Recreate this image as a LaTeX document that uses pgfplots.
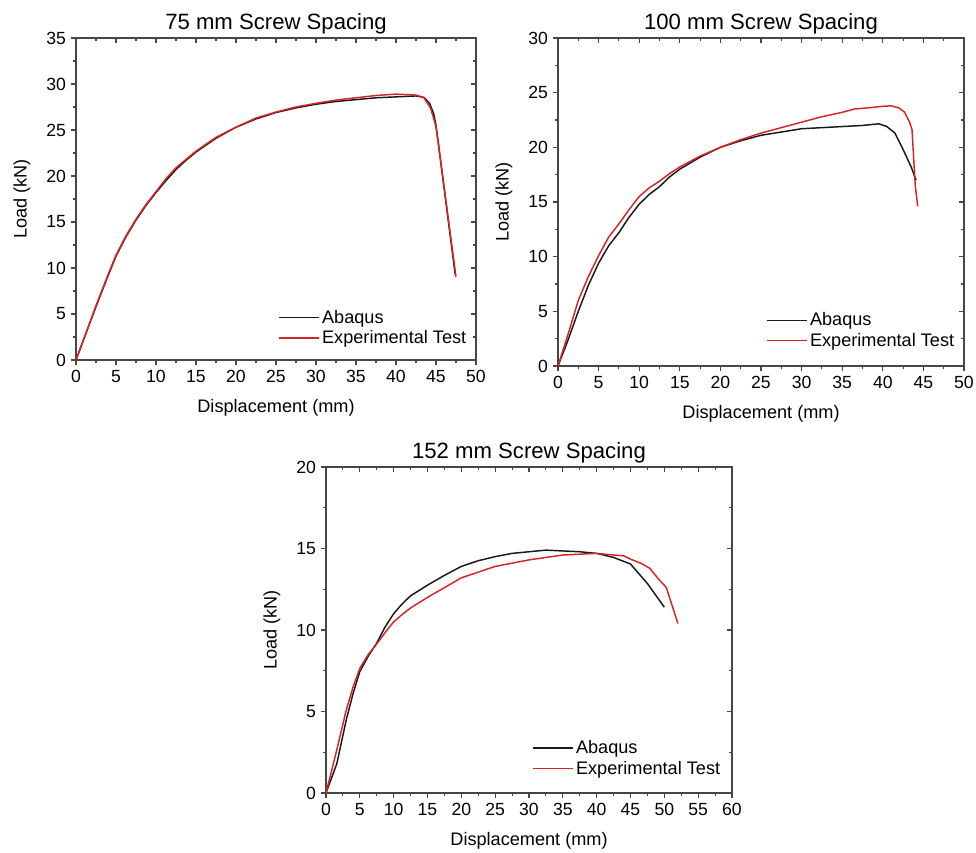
\documentclass[border=0pt]{standalone}
\usepackage{fontspec}
\setmainfont{Liberation Sans}
\usepackage{pgfplots}
\pgfplotsset{compat=1.18}
\definecolor{axisgray}{RGB}{70,70,70}
\definecolor{expred}{RGB}{215,35,35}
\definecolor{abablack}{RGB}{25,25,25}
\pgfplotsset{
  base/.style={
    scale only axis,
    axis line style={draw=axisgray, line width=0.8pt},
    major tick length=4pt, minor tick length=2.5pt,
    tick style={draw=axisgray, line width=0.8pt},
    minor x tick num=1, minor y tick num=1,
    tick label style={font=\fontsize{13.2}{15}\selectfont},
    /pgf/number format/assume math mode=true,
    clip=false,
  },
  front/.style={base,
    xtick pos=left, ytick pos=left, tick align=outside,
    title style={font=\fontsize{16.6}{19}\selectfont, at={(0.5,1)}, anchor=base, inner sep=0pt, yshift=0.5pt},
    xlabel style={font=\fontsize{13.6}{16}\selectfont, at={(axis description cs:0.5,0)}, anchor=center, yshift=-36pt},
    legend cell align=left,
    legend image code/.code={\draw[#1] (0pt,0pt) -- (30pt,0pt);},
    legend style={draw=none, fill=none, inner sep=0pt, anchor=south east,
      font=\fontsize{13.6}{15.5}\selectfont, row sep=0pt},
  },
  back/.style={base,
    xtick pos=right, ytick pos=right, tick align=inside,
    xticklabels={}, yticklabels={},
  },
  abq/.style={abablack, line width=1.1pt},
  exp/.style={expred, line width=1.1pt},
}
\begin{document}
\begin{tikzpicture}
\path[use as bounding box] (0pt,0pt) rectangle (732pt,639.75pt);
% ---------------- 75 mm ----------------
\begin{axis}[back, at={(57pt,369.75pt)}, anchor=south west, width=300pt, height=241.5pt,
  xmin=0, xmax=50, ymin=0, ymax=35, xtick={0,5,...,50}, ytick={0,5,...,35}]
\end{axis}
\begin{axis}[front, at={(57pt,369.75pt)}, anchor=south west, width=300pt, height=241.5pt,
  xmin=0, xmax=50, ymin=0, ymax=35, xtick={0,5,...,50}, ytick={0,5,...,35},
  title={75 mm Screw Spacing}, xlabel={Displacement (mm)}, ylabel={Load (kN)},
  ylabel style={font=\fontsize{13.6}{16}\selectfont, at={(axis description cs:-0.135,0.5)}, anchor=center},
  legend style={at={(0.983,0.035)}}]
\addplot[abq] coordinates {(0,0) (1.25,2.9) (2.5,5.8) (3.75,8.6) (5,11.3) (6.25,13.4) (7.5,15.2) (8.75,16.8) (10,18.2) (11.25,19.5) (12.5,20.7) (13.75,21.7) (15,22.6) (17.5,24.1) (20,25.3) (22.5,26.2) (25,26.9) (27.5,27.4) (30,27.8) (32.5,28.1) (35,28.3) (37.5,28.5) (40,28.6) (42.5,28.7) (43.5,28.55) (44.2,27.9) (44.7,26.8) (45,25.5) (45.3,23.5) (47.4,9.3)};
\addplot[exp] coordinates {(0,0) (1.25,2.95) (2.5,5.9) (3.75,8.7) (5,11.4) (6.25,13.5) (7.5,15.3) (8.75,16.9) (10,18.3) (11.25,19.7) (12.5,20.9) (13.75,21.8) (15,22.7) (17.5,24.2) (20,25.3) (22.5,26.3) (25,26.95) (27.5,27.5) (30,27.9) (32.5,28.25) (35,28.5) (37.5,28.75) (40,28.9) (42.5,28.8) (43.5,28.5) (44.3,27.4) (44.7,26.3) (45,25.3) (45.3,23.5) (47.5,9.05)};
\legend{Abaqus, Experimental Test}
\end{axis}
% ---------------- 100 mm ----------------
\begin{axis}[back, at={(418.5pt,365.25pt)}, anchor=south west, width=304.5pt, height=246pt,
  xmin=0, xmax=50, ymin=0, ymax=30, xtick={0,5,...,50}, ytick={0,5,...,30}]
\end{axis}
\begin{axis}[front, at={(418.5pt,365.25pt)}, anchor=south west, width=304.5pt, height=246pt,
  xmin=0, xmax=50, ymin=0, ymax=30, xtick={0,5,...,50}, ytick={0,5,...,30},
  title={100 mm Screw Spacing}, xlabel={Displacement (mm)}, ylabel={Load (kN)},
  ylabel style={font=\fontsize{13.6}{16}\selectfont, at={(axis description cs:-0.133,0.5)}, anchor=center},
  legend style={at={(0.983,0.045)}}]
\addplot[abq] coordinates {(0,0) (1.2,2.3) (2.5,5.0) (3.75,7.4) (5,9.4) (6.25,11.0) (7.5,12.2) (8.75,13.6) (10,14.8) (11.25,15.7) (12.5,16.4) (13.75,17.3) (15,18.0) (17.5,19.1) (20,20.0) (22.5,20.6) (25,21.1) (27.5,21.4) (30,21.7) (35,21.9) (37.5,22.0) (39.5,22.15) (40.5,21.9) (41.5,21.3) (42.5,19.8) (43.5,18.2) (44.1,17.0)};
\addplot[exp] coordinates {(0,0) (1.2,2.8) (2.5,6.0) (3.75,8.2) (5,10.1) (6.25,11.8) (7.5,13.0) (8.75,14.3) (10,15.5) (11.25,16.3) (12.5,16.9) (13.75,17.6) (15,18.2) (17.5,19.2) (20,20.0) (22.5,20.7) (25,21.3) (27.5,21.8) (30,22.3) (32.5,22.8) (35,23.2) (36.5,23.5) (38,23.6) (40,23.75) (41,23.8) (42,23.6) (42.7,23.2) (43.3,22.3) (43.6,21.6) (43.8,19.0) (44.0,16.5) (44.3,14.6)};
\legend{Abaqus, Experimental Test}
\end{axis}
% ---------------- 152 mm ----------------
\begin{axis}[back, at={(244.5pt,45pt)}, anchor=south west, width=304.5pt, height=244.5pt,
  xmin=0, xmax=60, ymin=0, ymax=20, xtick={0,5,...,60}, ytick={0,5,...,20}]
\end{axis}
\begin{axis}[front, at={(244.5pt,45pt)}, anchor=south west, width=304.5pt, height=244.5pt,
  xmin=0, xmax=60, ymin=0, ymax=20, xtick={0,5,...,60}, ytick={0,5,...,20},
  title={152 mm Screw Spacing}, xlabel={Displacement (mm)}, ylabel={Load (kN)},
  ylabel style={font=\fontsize{13.6}{16}\selectfont, at={(axis description cs:-0.133,0.5)}, anchor=center},
  legend style={at={(0.978,0.043)}}]
\addplot[abq] coordinates {(0,0) (1.6,1.8) (3,4.5) (4,6.1) (5,7.45) (6.25,8.4) (7.5,9.2) (8.75,10.2) (10,11.0) (11.25,11.6) (12.5,12.1) (15,12.75) (17.5,13.35) (20,13.9) (22.5,14.25) (25,14.5) (27.5,14.7) (30,14.8) (32.5,14.9) (35,14.85) (37.5,14.8) (40,14.7) (42.5,14.45) (45,14.05) (47.5,12.85) (50,11.4)};
\addplot[exp] coordinates {(0,0) (1.6,2.65) (3,5.1) (4,6.5) (5,7.65) (6.25,8.5) (7.5,9.15) (8.75,9.85) (10,10.5) (11.25,10.95) (12.5,11.35) (15,12.0) (17.5,12.6) (20,13.2) (22.5,13.55) (25,13.9) (27.5,14.1) (30,14.3) (32.5,14.45) (35,14.6) (37.5,14.65) (40,14.7) (42.5,14.6) (44,14.55) (45,14.35) (46.5,14.1) (47.8,13.8) (49,13.2) (50.3,12.6) (51,11.7) (52,10.4)};
\legend{Abaqus, Experimental Test}
\end{axis}
\end{tikzpicture}
\end{document}
